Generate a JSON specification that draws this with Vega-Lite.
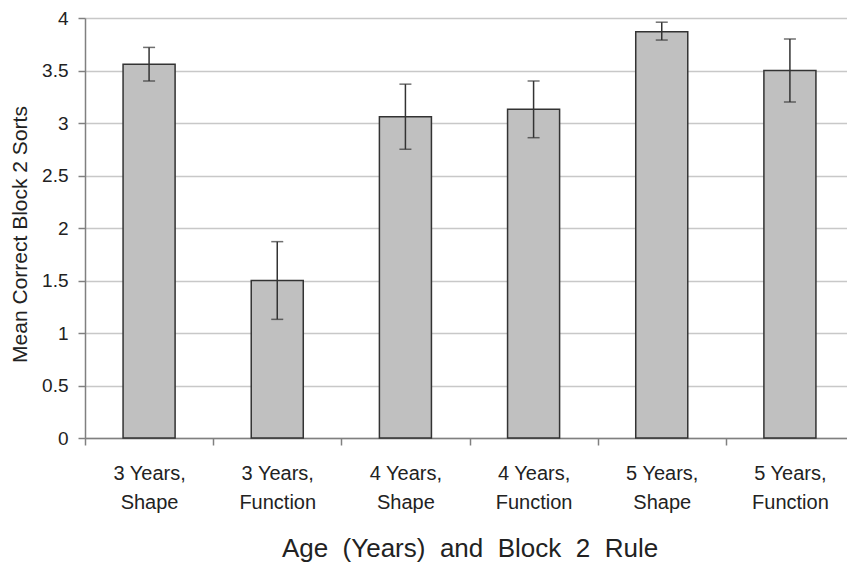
{
  "$schema": "https://vega.github.io/schema/vega-lite/v6.json",
  "autosize": "none",
  "width": 769,
  "height": 420,
  "padding": {"left": 85, "top": 18, "right": 0, "bottom": 124},
  "background": "white",
  "data": {
    "values": [
      {"group": "3 Years, Shape", "mean": 3.56, "lo": 3.40, "hi": 3.72},
      {"group": "3 Years, Function", "mean": 1.50, "lo": 1.13, "hi": 1.87},
      {"group": "4 Years, Shape", "mean": 3.06, "lo": 2.75, "hi": 3.37},
      {"group": "4 Years, Function", "mean": 3.13, "lo": 2.86, "hi": 3.40},
      {"group": "5 Years, Shape", "mean": 3.87, "lo": 3.79, "hi": 3.96},
      {"group": "5 Years, Function", "mean": 3.50, "lo": 3.20, "hi": 3.80}
    ]
  },
  "config": {
    "view": {"stroke": null},
    "font": "Liberation Sans",
    "axis": {"labelFont": "Liberation Sans", "titleFont": "Liberation Sans", "labelColor": "#222", "titleColor": "#222", "titleFontWeight": "normal"}
  },
  "encoding": {
    "x": {
      "field": "group",
      "type": "nominal",
      "sort": null,
      "scale": {"paddingInner": 0, "paddingOuter": 0},
      "axis": {
        "title": "Age\u00a0 (Years)\u00a0 and\u00a0 Block\u00a0 2\u00a0 Rule",
        "titleFontSize": 26,
        "titlePadding": 23,
        "labelAngle": 0,
        "labelFontSize": 20,
        "labelLineHeight": 29,
        "labelPadding": 18,
        "labelExpr": "indexof(datum.label + '', ', ') >= 0 ? [split(datum.label, ', ')[0] + ',', split(datum.label, ', ')[1]] : ''",
        "tickBand": "extent",
        "tickSize": 7,
        "tickColor": "#808080",
        "tickWidth": 1.5,
        "domainColor": "#808080",
        "domainWidth": 1.5,
        "grid": false
      }
    }
  },
  "layer": [
    {
      "mark": {"type": "bar", "width": {"band": 0.406}, "fill": "#c0c0c0", "stroke": "#333333", "strokeWidth": 1.5},
      "encoding": {
        "y": {
          "field": "mean",
          "type": "quantitative",
          "scale": {"domain": [0, 4], "nice": false},
          "axis": {
            "title": "Mean Correct Block 2 Sorts",
            "titleFontSize": 21,
            "titlePadding": 11,
            "titleY": 216,
            "values": [0, 0.5, 1, 1.5, 2, 2.5, 3, 3.5, 4],
            "format": "~g",
            "labelFontSize": 19,
            "labelPadding": 10,
            "tickSize": 7,
            "tickColor": "#808080",
            "tickWidth": 1.5,
            "domainColor": "#808080",
            "domainWidth": 1.5,
            "gridColor": "#c8c8c8",
            "gridWidth": 1.5
          }
        }
      }
    },
    {
      "mark": {"type": "rule", "color": "#333333", "strokeWidth": 1.5},
      "encoding": {
        "y": {"field": "lo", "type": "quantitative"},
        "y2": {"field": "hi"}
      }
    },
    {
      "mark": {"type": "tick", "color": "#333333", "size": 12, "thickness": 1.5},
      "encoding": {"y": {"field": "lo", "type": "quantitative"}}
    },
    {
      "mark": {"type": "tick", "color": "#333333", "size": 12, "thickness": 1.5},
      "encoding": {"y": {"field": "hi", "type": "quantitative"}}
    }
  ]
}
